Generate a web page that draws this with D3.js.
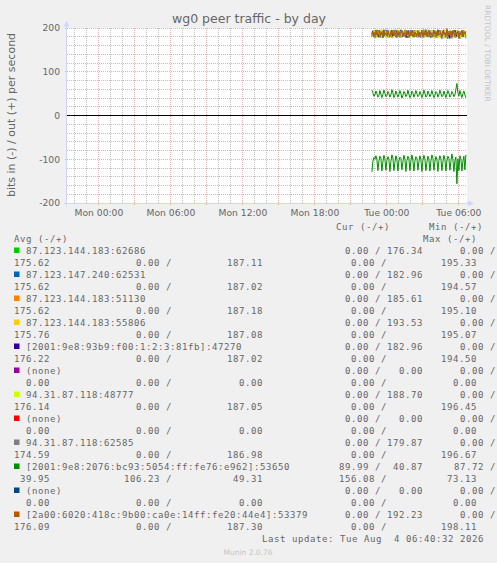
<!DOCTYPE html>
<html>
<head>
<meta charset="utf-8">
<script src="https://cdnjs.cloudflare.com/ajax/libs/d3/7.8.5/d3.min.js"></script>
<style>
  html, body { margin: 0; padding: 0; background: #f0f0f0; }
  svg { display: block; }
  text { font-family: 'DejaVu Sans', sans-serif; fill: #666; }
  .mono { font-family: 'DejaVu Sans Mono', monospace; font-size: 9px; letter-spacing: 0.58px; white-space: pre; }
</style>
</head>
<body>
<svg id="chart" width="497" height="563"></svg>
<script>
// ---- data ----
const peerLabels = [
    '87.123.144.183:62686',
    '87.123.147.240:62531',
    '87.123.144.183:51130',
    '87.123.144.183:55806',
    '[2001:9e8:93b9:f00:1:2:3:81fb]:47270',
    '(none)',
    '94.31.87.118:48777',
    '(none)',
    '94.31.87.118:62585',
    '[2001:9e8:2076:bc93:5054:ff:fe76:e962]:53650',
    '(none)',
    '[2a00:6020:418c:9b00:ca0e:14ff:fe20:44e4]:53379'
];
const peerColors = ['#00cc00', '#0066b3', '#ff8000', '#ffcc00', '#330099', '#990099',
                    '#ccff00', '#ff0000', '#808080', '#008f00', '#00487d', '#b35a00'];

const curIn  = [0, 0, 0, 0, 0, 0, 0, 0, 0, 89.99, 0, 0];
const curOut = [176.34, 182.96, 185.61, 193.53, 182.96, 0, 188.70, 0, 179.87, 40.87, 0, 192.23];
const minIn  = [0, 0, 0, 0, 0, 0, 0, 0, 0, 87.72, 0, 0];
const minOut = [175.62, 175.62, 175.62, 175.76, 176.22, 0, 176.14, 0, 174.59, 39.95, 0, 176.09];
const avgIn  = [0, 0, 0, 0, 0, 0, 0, 0, 0, 106.23, 0, 0];
const avgOut = [187.11, 187.02, 187.18, 187.08, 187.02, 0, 187.05, 0, 186.98, 49.31, 0, 187.30];
const maxIn  = [0, 0, 0, 0, 0, 0, 0, 0, 0, 156.08, 0, 0];
const maxOut = [195.33, 194.57, 195.10, 195.07, 194.50, 0, 196.45, 0, 196.67, 73.13, 0, 198.11];

// 5 minute samples starting Mon 22:45
const seriesStart = new Date(2026, 7, 3, 22, 45, 0);
const stepMinutes = 5;

const outPeer1 = [
    182,194,179,191,186,196,180,189,193,178,
    190,184,195,181,188,192,179,194,185,190,
    178,193,183,196,187,180,191,184,195,179,
    195.33,182,190,186,178,193,181,189,194,183,
    192,179,188,195,182,190,184,193,180,189,
    185,194,178,191,183,196,181,188,192,180,
    190,183,195,179,187,193,181,189,185,194,
    179,192,184,190,178,195,182,188,193,180,
    191,184,194,179,189,186,192,181,175.62,190,
    183,194,180,189,176.34];
const outPeer2 = [
    190,181,194,184,178,192,186,195,180,188,
    193,179,189,184,196,182,190,178,194,185,
    188,180,195,183,191,178,193,186,181,194,
    179,190,185,196,181,188,192,178,186,194.57,
    182,191,179,195,186,180,193,184,189,178,
    194,183,190,181,196,185,179,192,187,182,
    195,180,188,184,193,178,191,186,194,181,
    189,183,196,179,190,185,175.62,193,182,188,
    180,194,184,191,178,195,186,181,192,183,
    190,179,194,185,182.96];
const outPeer3 = [
    179,192,185,195,181,189,194,178,190,184,
    196,182,188,193,179,191,186,195,180,188,
    193,178,190,185,196,181,189,183,194,179,
    187,192,180,195,184,189,178,193,186,190,
    181,195,183,188,192,179,195.10,184,190,181,
    193,186,179,194,182,190,185,196,180,188,
    192,179,194,184,189,181,195,183,190,178,
    193,186,182,195,180,189,184,192,179,191,
    175.62,194,183,188,195,181,190,185,179,193,
    186,181,194,188,185.61];
const outPeer4 = [
    193,183,188,179,195,186,181,192,184,196,
    180,190,185,194,178,189,183,195,186,181,
    192,179,194,184,190,180,196,185,188,178,
    193,182,190,186,195,179,188,184,193,181,
    190,186,178,194,183,191,180,195,185,188,
    179,193,184,190,181,195.07,186,179,192,184,
    195,181,189,183,194,178,191,186,180,193,
    184,189,175.76,195,182,190,185,179,194,187,
    181,192,184,196,179,190,186,182,194,180,
    189,185,192,181,193.53];
const outPeer5 = [
    185,193,180,190,195,182,188,179,194,184,
    191,178,196,183,189,186,193,180,190,185,
    195,181,188,192,179,194,184,190,182,196,
    180,187,193,184,191,178,195,186,181,192,
    194.50,183,189,180,194,185,179,192,187,182,
    195,179,190,184,193,181,188,195,183,178,
    191,186,194,180,189,183,196,181,187,192,
    179,194,185,190,182,195,180,188,176.22,193,
    184,190,179,195,186,181,192,184,189,180,
    194,183,188,186,182.96];
const outPeer7 = [
    188,180,195,184,191,178,193,186,182,196,
    179,190,185,194,181,189,192,179,195,184,
    186,193,180,190,183,196,181,188,194,179,
    191,185,193,180,189,195,182,187,192,178,
    194,184,190,181,195,186,179,193,196.45,182,
    189,194,180,187,192,179,195,184,188,181,
    193,186,179,194,183,190,185,176.14,192,180,
    195,183,189,186,194,179,191,184,196,181,
    188,193,180,190,185,195,182,188,192,179,
    194,184,190,181,188.70];
const outPeer9 = [
    181,191,186,178,194,183,190,195,180,188,
    192,179,194,185,189,181,196,184,179,193,
    186,190,182,195,180,189,184,193,178,191,
    195,183,188,180,194,186,192,179,190,183,
    188,195,181,191,184,179,193,186,190,182,
    194,180,196.67,183,189,185,192,179,195,184,
    180,190,186,194,178,192,183,189,195,181,
    174.59,193,185,190,180,196,183,188,194,179,
    191,184,195,180,189,186,193,178,192,185,
    181,194,187,190,179.87];
const outPeer10 = [
    58,52,44,47,56,50,42,46,57,49,
    41,48,58,51,43,45,55,50,42,47,
    59,52,41,46,56,49,42,48,57,50,
    39.95,46,55,51,43,47,58,49,41,45,
    56,52,42,48,57,50,43,46,55,49,
    41,47,58,51,42,45,56,50,43,48,
    57,49,41,46,55,52,42,47,58,50,
    43,45,56,49,41,48,57,51,42,46,
    55,50,43,47,60,73.13,52,44,57,49,
    41,50,56,47,40.87];
const inPeer10 = [
    129,104,96,100,92,101,126,104,93,98,
    127,106,91,99,125,103,94,100,128,105,
    90,97,126,107,92,101,127,104,95,98,
    124,106,91,100,128,103,93,99,126,105,
    90,102,127,104,94,97,125,106,92,101,
    128,103,91,99,126,107,93,100,127,104,
    90,98,125,105,94,101,128,103,92,99,
    126,106,91,100,127,104,93,98,125,105,
    87.72,101,128,103,95,156.08,99,126,92,100,
    127,104,93,124,89.99];
const outPeer12 = [
    186,192,181,190,184,194,180,188,193,183,
    190,179,195,185,189,182,193,187,180,191,
    184,194,182,189,186,195,180,191,184,188,
    193,181,190,186,179,194,184,189,192,182,
    195,185,180,191,188,183,194,179,190,186,
    192,181,189,184,195,180,188,193,183,190,
    185,179,194,186,191,182,195,184,188,190,
    181,193,186,189,180,198.11,183,190,185,192,
    179,194,187,182,191,185,193,176.09,188,184,
    195,181,190,186,192.23];

const yTicks = [-200, -100, 0, 100, 200];
const lastUpdate = 'Last update: Tue Aug  4 06:40:32 2026';
const version = 'Munin 2.0.76';

// ---- layout ----
const plot = { left: 67, right: 467, top: 28, bottom: 203 };
const endTime = new Date(2026, 7, 4, 6, 40, 32);
const startTime = new Date(endTime.getTime() - 2000 * 60 * 1000);

const svg = d3.select('#chart');

const x = d3.scaleTime()
    .domain([startTime, endTime])
    .range([plot.left, plot.right]);

const y = d3.scaleLinear()
    .domain([-200, 200])
    .range([plot.bottom, plot.top]);

const crisp = v => Math.floor(v) + 0.5;

svg.append('rect')
    .attr('x', plot.left)
    .attr('y', plot.top)
    .attr('width', plot.right - plot.left)
    .attr('height', plot.bottom - plot.top)
    .attr('fill', '#ffffff');

// minor grid
const grid = svg.append('g').attr('stroke-width', 1).attr('stroke-dasharray', '1,1').attr('fill', 'none');

grid.selectAll('.hminor')
    .data(d3.range(-200, 201, 20).filter(v => v % 100 !== 0))
    .enter().append('line')
    .attr('x1', plot.left).attr('x2', plot.right)
    .attr('y1', d => crisp(y(d))).attr('y2', d => crisp(y(d)))
    .attr('stroke', '#c2c2c2');

grid.selectAll('.vminor')
    .data(d3.timeHour.every(1).range(startTime, endTime).filter(d => d.getHours() % 3 !== 0))
    .enter().append('line')
    .attr('x1', d => crisp(x(d))).attr('x2', d => crisp(x(d)))
    .attr('y1', plot.top).attr('y2', plot.bottom)
    .attr('stroke', '#c2c2c2');

// major grid
grid.selectAll('.hmajor')
    .data(yTicks)
    .enter().append('line')
    .attr('x1', plot.left - 2).attr('x2', plot.right)
    .attr('y1', d => crisp(y(d))).attr('y2', d => crisp(y(d)))
    .attr('stroke', '#ecb0b0');

grid.selectAll('.vmajor')
    .data(d3.timeHour.every(3).range(startTime, endTime))
    .enter().append('line')
    .attr('x1', d => crisp(x(d))).attr('x2', d => crisp(x(d)))
    .attr('y1', plot.top).attr('y2', plot.bottom + 2)
    .attr('stroke', '#ecb0b0');

// axes
const axisColor = '#cfd6f8';
svg.append('line')
    .attr('x1', plot.left - 0.5).attr('x2', plot.left - 0.5)
    .attr('y1', plot.bottom + 3).attr('y2', plot.top - 4)
    .attr('stroke', axisColor);
svg.append('path')
    .attr('d', `M${plot.left - 3.5},${plot.top - 1.5}L${plot.left - 0.5},${plot.top - 7}L${plot.left + 2.5},${plot.top - 1.5}Z`)
    .attr('fill', axisColor);
svg.append('line')
    .attr('x1', plot.left - 3).attr('x2', plot.right + 3)
    .attr('y1', plot.bottom + 0.5).attr('y2', plot.bottom + 0.5)
    .attr('stroke', axisColor);
svg.append('path')
    .attr('d', `M${plot.right + 1},${plot.bottom - 2.5}L${plot.right + 7},${plot.bottom + 0.5}L${plot.right + 1},${plot.bottom + 3.5}Z`)
    .attr('fill', axisColor);

// tick labels
svg.selectAll('.ylabel')
    .data(yTicks)
    .enter().append('text')
    .attr('x', 60)
    .attr('y', d => y(d) + 3.4)
    .attr('text-anchor', 'end')
    .style('font-size', '9.2px')
    .text(d => d);

const timeFmt = d3.timeFormat('%a %H:%M');
svg.selectAll('.xlabel')
    .data(d3.timeHour.every(6).range(startTime, endTime))
    .enter().append('text')
    .attr('x', d => x(d))
    .attr('y', 216)
    .attr('text-anchor', 'middle')
    .style('font-size', '9.2px')
    .text(d => timeFmt(d));

// series
const timeAt = i => new Date(seriesStart.getTime() + i * stepMinutes * 60 * 1000);
const line = d3.line()
    .x((d, i) => x(timeAt(i)))
    .y(d => y(d));

const drawn = [
    { peer: 0, values: outPeer1, sign: 1 },
    { peer: 1, values: outPeer2, sign: 1 },
    { peer: 2, values: outPeer3, sign: 1 },
    { peer: 3, values: outPeer4, sign: 1 },
    { peer: 4, values: outPeer5, sign: 1 },
    { peer: 6, values: outPeer7, sign: 1 },
    { peer: 8, values: outPeer9, sign: 1 },
    { peer: 9, values: inPeer10, sign: -1 },
    { peer: 9, values: outPeer10, sign: 1 },
    { peer: 11, values: outPeer12, sign: 1 }
];

svg.append('g')
    .selectAll('path')
    .data(drawn)
    .enter().append('path')
    .attr('d', d => line(d.values.map(v => v * d.sign)))
    .attr('fill', 'none')
    .attr('stroke', d => peerColors[d.peer])
    .attr('stroke-width', 1);

// zero rule
svg.append('line')
    .attr('x1', plot.left).attr('x2', plot.right)
    .attr('y1', crisp(y(0))).attr('y2', crisp(y(0)))
    .attr('stroke', '#000000');

// titles
svg.append('text')
    .attr('x', 249)
    .attr('y', 23)
    .attr('text-anchor', 'middle')
    .style('font-size', '12.5px')
    .text('wg0 peer traffic - by day');

svg.append('text')
    .attr('transform', 'translate(14.5,115) rotate(-90)')
    .attr('text-anchor', 'middle')
    .style('font-size', '11px')
    .text('bits in (-) / out (+) per second');

svg.append('text')
    .attr('transform', 'translate(484.5,5) rotate(90)')
    .style('font-size', '7.5px')
    .style('fill', '#c4c4c4')
    .text('RRDTOOL / TOBI OETIKER');

// legend
const legend = svg.append('g');
const f2 = d3.format('.2f');
const pad6 = v => f2(v).padStart(6, ' ');

const monoText = (xPos, yPos, str, anchor) => legend.append('text')
    .attr('class', 'mono')
    .attr('x', xPos)
    .attr('y', yPos)
    .attr('text-anchor', anchor || 'start')
    .text(str);

monoText(336, 230, 'Cur (-/+)');
monoText(429, 230, 'Min (-/+)');
monoText(14, 242, 'Avg (-/+)');
monoText(423, 242, 'Max (-/+)');

peerLabels.forEach((label, i) => {
    const yA = 254 + i * 24;
    const yB = yA + 12;
    legend.append('rect')
        .attr('x', 14).attr('y', yA - 6.5)
        .attr('width', 5.5).attr('height', 5.5)
        .attr('fill', peerColors[i]);
    monoText(26, yA, label);
    monoText(423, yA, `${pad6(curIn[i])} / ${pad6(curOut[i])}`, 'end');
    monoText(496, yA, `${pad6(minIn[i])} /`, 'end');
    monoText(14, yB, pad6(minOut[i]));
    monoText(172, yB, `${pad6(avgIn[i])} /`, 'end');
    monoText(263, yB, pad6(avgOut[i]), 'end');
    monoText(387, yB, `${pad6(maxIn[i])} /`, 'end');
    monoText(477, yB, pad6(maxOut[i]), 'end');
});

monoText(262, 542, lastUpdate);

svg.append('text')
    .attr('x', 248)
    .attr('y', 555)
    .attr('text-anchor', 'middle')
    .style('font-size', '7.5px')
    .style('fill', '#c4c4c4')
    .text(version);
</script>
</body>
</html>
